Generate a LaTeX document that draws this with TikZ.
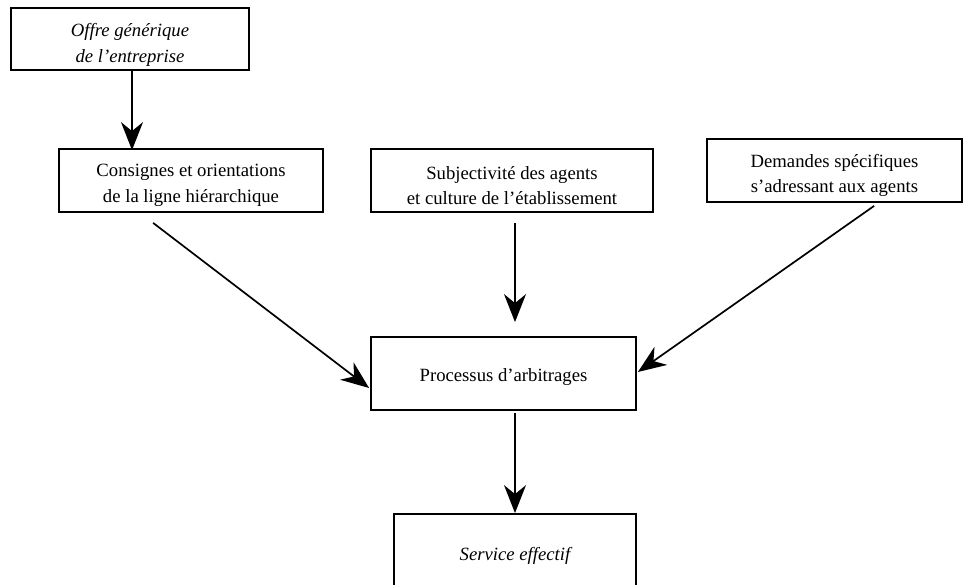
\documentclass[tikz,border=0pt]{standalone}
\usepackage{fontspec}
\setmainfont{Liberation Serif}
\usetikzlibrary{arrows.meta,calc}
\begin{document}
\begin{tikzpicture}[x=1pt,y=-1pt,
  box/.style={draw, line width=1.8pt, inner sep=0pt},
  txt/.style={inner sep=0pt, align=center, font=\fontsize{18.7}{25.5}\selectfont},
  ittxt/.style={txt, font=\fontsize{18.7}{25.5}\selectfont\itshape},
  arr/.style={-{Stealth[length=28pt,width=22pt,inset=9pt]}, line width=1.7pt}]
\useasboundingbox (0,0) rectangle (964,585);
% boxes
\node[box, minimum width=238pt, minimum height=62pt] (offre) at (130,39) {};
\node[box, minimum width=264pt, minimum height=63pt] (consignes) at (191,180.5) {};
\node[box, minimum width=282pt, minimum height=63pt] (subj) at (512,180.5) {};
\node[box, minimum width=255pt, minimum height=63pt] (demandes) at (834.5,170.5) {};
\node[box, minimum width=265pt, minimum height=73pt] (processus) at (503.5,373.5) {};
\node[box, minimum width=242pt, minimum height=78pt] (service) at (515,553) {};
% texts
\node[ittxt] (offreT) at ($(offre)+(0,6)$) {Offre générique\\de l’entreprise};
\node[txt] (consignesT) at ($(consignes)+(0,5)$) {Consignes et orientations\\de la ligne hiérarchique};
\node[txt] (subjT) at ($(subj)+(0,5)$) {Subjectivité des agents\\et culture de l’établissement};
\node[txt] (demandesT) at ($(demandes)+(0,5)$) {Demandes spécifiques\\s’adressant aux agents};
\node[txt] (processusT) at ($(processus)+(0,4)$) {Processus d’arbitrages};
\node[ittxt] (serviceT) at ($(service)+(0,3)$) {Service effectif};
% connectors
\coordinate (cA) at (132,0);
\coordinate (cB) at (515,0);
\draw[arr] (offre.south -| cA) -- ($(consignes.north -| cA)+(0,2)$);
\draw[arr] ($(consignes.south west)+(95,10)$) -- ($(processus.west)+(-1,14.5)$);
\draw[arr] ($(subj.south -| cB)+(0,10)$) -- ($(processus.north -| cB)+(0,-14)$);
\draw[arr] ($(demandes.south west)+(168,3)$) -- ($(processus.east)+(1,-1.5)$);
\draw[arr] ($(processus.south -| cB)+(0,2.5)$) -- (service.north -| cB);
\end{tikzpicture}
\end{document}
